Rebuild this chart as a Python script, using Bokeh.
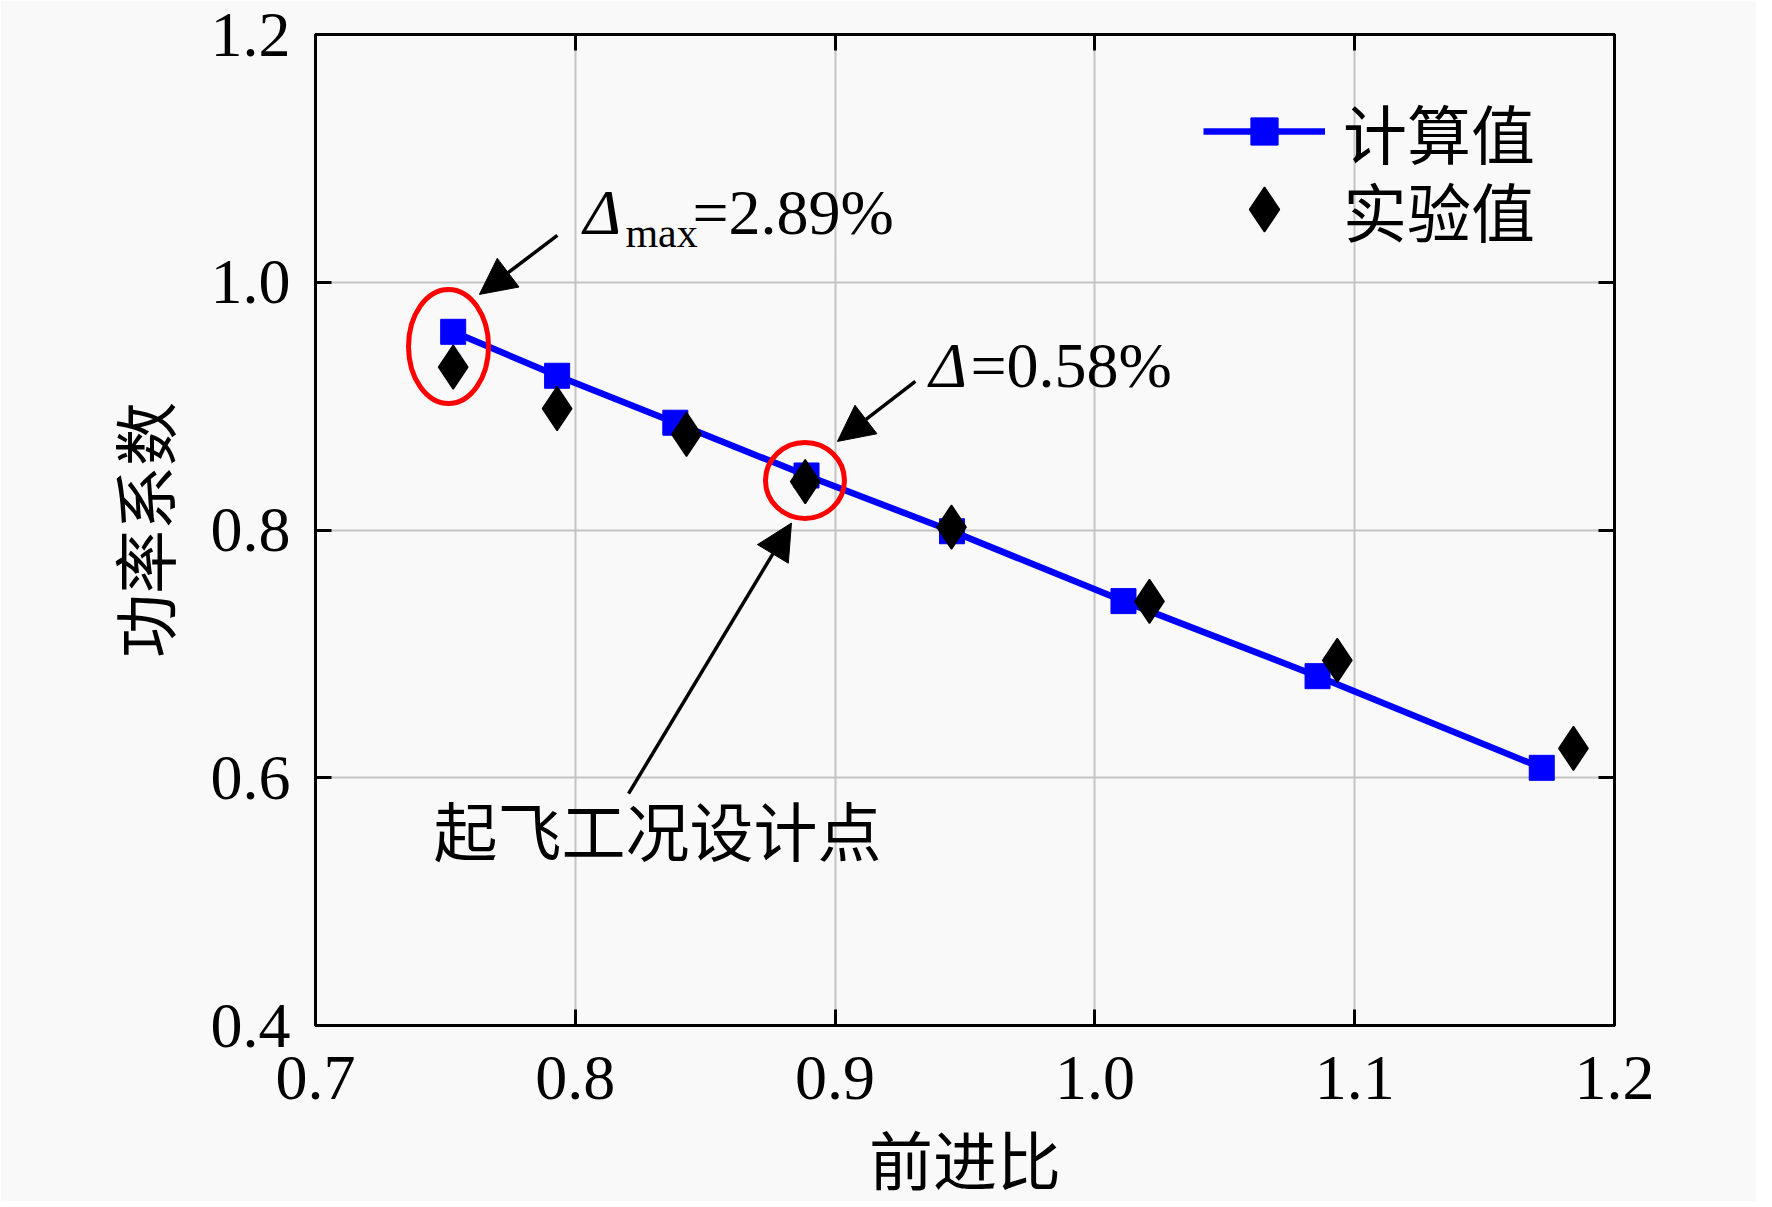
from bokeh.plotting import figure
from bokeh.models import (FixedTicker, LinearAxis, Legend, LegendItem, Arrow,
                          NormalHead, Label, Range1d, ColumnDataSource)
from bokeh.embed import file_html
from bokeh.resources import INLINE

# ---------------- data ----------------
advance_calc = [0.753, 0.793, 0.8385, 0.889, 0.945, 1.011, 1.0857, 1.172]
power_calc = [0.960, 0.9245, 0.8866, 0.844, 0.799, 0.7426, 0.682, 0.608]
advance_exp = [0.753, 0.793, 0.8428, 0.8885, 0.9448, 1.021, 1.0933, 1.1842]
power_exp = [0.9315, 0.898, 0.8772, 0.839, 0.8023, 0.7424, 0.6948, 0.6237]

series_names = ["计算值", "实验值"]
x_label = "前进比"
y_label = "功率系数"
x_ticks = [0.7, 0.8, 0.9, 1.0, 1.1, 1.2]
x_tick_labels = ["0.7", "0.8", "0.9", "1.0", "1.1", "1.2"]
y_ticks = [0.4, 0.6, 0.8, 1.0, 1.2]
y_tick_labels = ["0.4", "0.6", "0.8", "1.0", "1.2"]

# annotations (data coordinates)
ring_x = [0.7512, 0.8884]
ring_y = [0.9482, 0.8400]
ring_w = [0.0308, 0.0304]
ring_h = [0.0920, 0.0613]
arrow_x0 = [0.7931, 0.9309, 0.8205]
arrow_y0 = [1.0378, 0.9199, 0.5872]
arrow_x1 = [0.7631, 0.9009, 0.8832]
arrow_y1 = [0.9902, 0.8715, 0.8056]
note_design = "起飞工况设计点"
note_design_xy = (0.7454, 0.5543)
note_max_delta = ("Δ", "max", "=2.89%")
note_max_xy = [(0.8032, 1.0563), (0.8193, 1.0394), (0.8451, 1.0563)]
note_pt_delta = ("Δ", "=0.58%")
note_pt_xy = [(0.9363, 0.9325), (0.9521, 0.9325)]

SERIF = "Liberation Serif, Noto Sans CJK SC"
BG = "#f9f9f9"
FS = "64px"

p = figure(frame_width=1299, frame_height=991,
           min_border_left=315, min_border_right=142,
           min_border_top=34, min_border_bottom=174,
           x_range=Range1d(0.7, 1.2), y_range=Range1d(0.4, 1.2),
           output_backend="svg", toolbar_location=None,
           background_fill_color=BG, border_fill_color=BG)

p.outline_line_color = "black"
p.outline_line_width = 3

for ax in (p.xaxis[0], p.yaxis[0]):
    ax.axis_line_width = 3
    ax.major_tick_line_width = 3
    ax.major_tick_in = 16
    ax.major_tick_out = 0
    ax.minor_tick_line_color = None
    ax.major_label_text_font = "Liberation Serif"
    ax.major_label_text_font_size = "64px"
    ax.major_label_text_color = "black"
    ax.axis_label_text_font = SERIF
    ax.axis_label_text_font_size = FS
    ax.axis_label_text_font_style = "normal"
    ax.axis_label_text_color = "black"

p.xaxis.ticker = FixedTicker(ticks=x_ticks)
p.yaxis.ticker = FixedTicker(ticks=y_ticks)
p.xaxis.major_label_overrides = {t: s for t, s in zip(x_ticks, x_tick_labels)}
p.yaxis.major_label_overrides = {t: s for t, s in zip(y_ticks, y_tick_labels)}
p.xaxis.major_label_standoff = 31
p.yaxis.major_label_standoff = 25
p.xaxis.axis_label = x_label
p.yaxis.axis_label = y_label
p.xaxis.axis_label_standoff = 26
p.yaxis.axis_label_standoff = 24

for side, ticks in (("above", x_ticks), ("right", y_ticks)):
    ax = LinearAxis(ticker=FixedTicker(ticks=ticks))
    ax.axis_line_width = 3
    ax.major_tick_line_width = 3
    ax.major_tick_in = 16
    ax.major_tick_out = 0
    ax.minor_tick_line_color = None
    ax.major_label_text_font_size = "0px"
    ax.major_label_standoff = 0
    ax.major_label_text_color = None
    p.add_layout(ax, side)

p.xgrid.ticker = FixedTicker(ticks=x_ticks)
p.ygrid.ticker = FixedTicker(ticks=y_ticks)
for g in (p.xgrid[0], p.ygrid[0]):
    g.grid_line_color = "#c4c4c4"
    g.grid_line_width = 2

# series
line_r = p.line(advance_calc, power_calc, line_color="#0000ff", line_width=6.5)
sq_r = p.scatter(advance_calc, power_calc, marker="square", size=25,
                 fill_color="#0000ff", line_color="#0000ff", line_width=1)
dm_r = p.scatter(advance_exp, power_exp, marker="diamond", size=44,
                 fill_color="black", line_color="black", line_width=1.5)

# red rings
p.ellipse(x=ring_x, y=ring_y, width=ring_w, height=ring_h,
          fill_color=None, line_color="#ff0000", line_width=5)

# arrows
arrow_src = ColumnDataSource(dict(x0=arrow_x0, y0=arrow_y0, x1=arrow_x1, y1=arrow_y1))
p.add_layout(Arrow(source=arrow_src, x_start="x0", y_start="y0", x_end="x1", y_end="y1",
                   line_color="black", line_width=3.5,
                   end=NormalHead(size=36, fill_color="black", line_color="black", line_width=1)))

# text notes
p.add_layout(Label(x=note_design_xy[0], y=note_design_xy[1], text=note_design,
                   text_font=SERIF, text_font_size=FS, text_color="black",
                   text_align="left", text_baseline="middle"))
sizes_max = [FS, "42px", FS]
styles_max = ["italic", "normal", "normal"]
for t, (xx, yy), fs, st in zip(note_max_delta, note_max_xy, sizes_max, styles_max):
    p.add_layout(Label(x=xx, y=yy, text=t, text_font="Liberation Serif", text_font_size=fs,
                       text_font_style=st, text_color="black",
                       text_align="left", text_baseline="alphabetic"))
for t, (xx, yy), st in zip(note_pt_delta, note_pt_xy, ["italic", "normal"]):
    p.add_layout(Label(x=xx, y=yy, text=t, text_font="Liberation Serif", text_font_size=FS,
                       text_font_style=st, text_color="black",
                       text_align="left", text_baseline="alphabetic"))

# legends
def make_legend(item, gh, loc):
    lg = Legend(items=[item], location=loc, glyph_width=122, glyph_height=gh,
                label_standoff=18, label_height=20, padding=0, margin=0, spacing=0,
                border_line_color=None, background_fill_alpha=0,
                label_text_font=SERIF, label_text_font_size=FS, label_text_color="black")
    return lg

leg1 = make_legend(LegendItem(label=series_names[0], renderers=[line_r, sq_r]), 68, (888, 848))
leg2 = make_legend(LegendItem(label=series_names[1], renderers=[dm_r]), 112, (888, 760))
p.add_layout(leg1)
p.add_layout(leg2)

open("out.html", "w").write(file_html(p, INLINE))
